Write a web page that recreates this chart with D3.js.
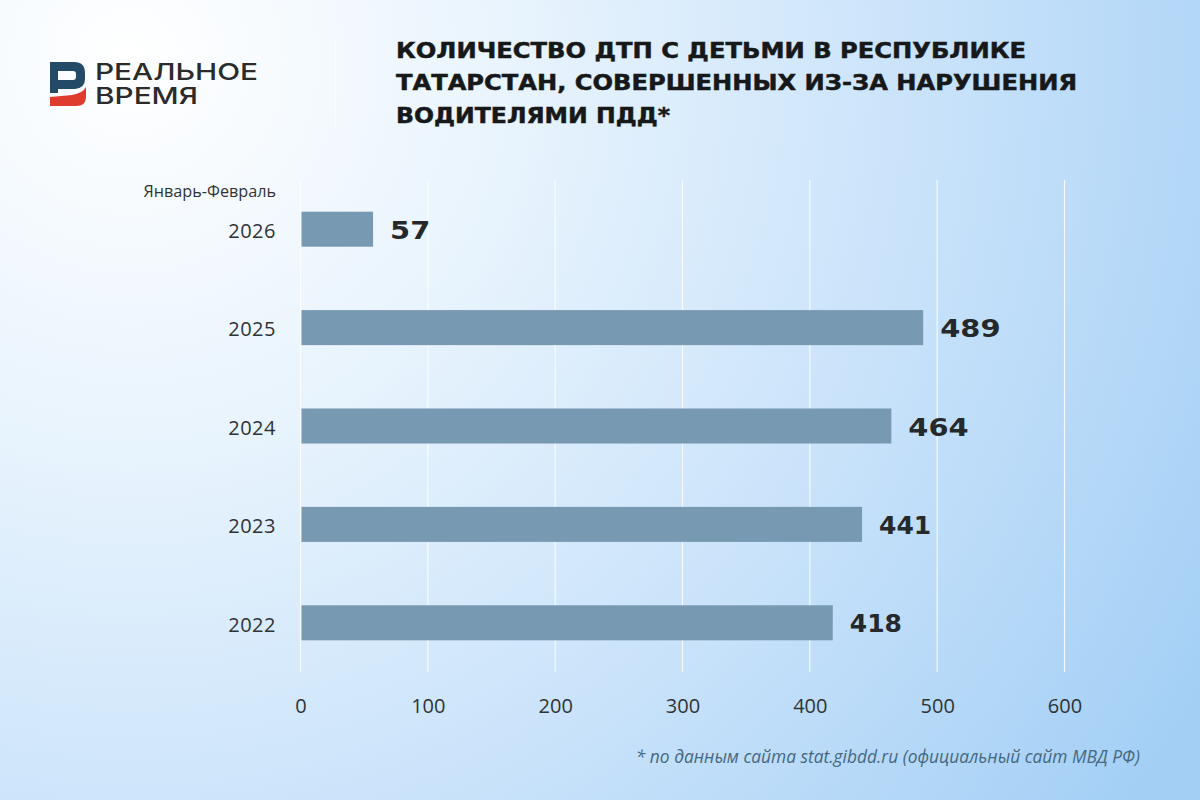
<!DOCTYPE html>
<html>
<head>
<meta charset="utf-8">
<script src="https://cdn.jsdelivr.net/npm/d3@7"></script>
<style>
    html, body { margin: 0; padding: 0; }
    svg { display: block; }
</style>
</head>
<body>
<div id="chart"></div>
<script>
// data
var years = ['2026', '2025', '2024', '2023', '2022'];
var values = [57, 489, 464, 441, 418];
var xTicks = [0, 100, 200, 300, 400, 500, 600];
var titleLines = [
    'КОЛИЧЕСТВО ДТП С ДЕТЬМИ В РЕСПУБЛИКЕ',
    'ТАТАРСТАН, СОВЕРШЕННЫХ ИЗ-ЗА НАРУШЕНИЯ',
    'ВОДИТЕЛЯМИ ПДД*'
];
var titleWidths = [630, 681, 274];
var titleBaselines = [58, 90, 123];

var width = 1200;
var height = 800;
var margin = { top: 180, right: 135.5, bottom: 128, left: 300.5 };
var plotW = width - margin.left - margin.right;
var plotH = height - margin.top - margin.bottom;

var svg = d3.select('#chart').append('svg')
    .attr('width', width)
    .attr('height', height)
    .attr('viewBox', '0 0 ' + width + ' ' + height);

// background
var defs = svg.append('defs');
var bg = defs.append('radialGradient')
    .attr('id', 'bg')
    .attr('gradientUnits', 'userSpaceOnUse')
    .attr('cx', 130).attr('cy', 60).attr('r', 1250);
bg.append('stop').attr('offset', '0').attr('stop-color', '#ffffff');
bg.append('stop').attr('offset', '0.3').attr('stop-color', '#e9f4fd');
bg.append('stop').attr('offset', '0.65').attr('stop-color', '#c8e2fa');
bg.append('stop').attr('offset', '1').attr('stop-color', '#a3cff5');
svg.append('rect').attr('width', width).attr('height', height).attr('fill', 'url(#bg)');

// logo
var logo = svg.append('g').attr('transform', 'translate(50,62)');
logo.append('path')
    .attr('d', 'M0,0 H24 Q35,0 35,11 V17 Q35,26 25,27 L8,27 V31 H0 Z M8,9 V18 H23 Q26,18 26,15 V12 Q26,9 23,9 Z')
    .attr('fill', '#234a66').attr('fill-rule', 'evenodd');
logo.append('path')
    .attr('d', 'M0,35 L22,33 Q33,31 36,25 V35 Q36,44 26,44 H0 Z')
    .attr('fill', '#e03c2e');
logo.append('text').attr('x', 45).attr('y', 18)
    .text('РЕАЛЬНОЕ')
    .attr('font-family', 'Inter').attr('font-size', 23.5).attr('font-weight', 500)
    .attr('fill', '#2b2b2b').attr('textLength', 163).attr('lengthAdjust', 'spacingAndGlyphs');
logo.append('text').attr('x', 45).attr('y', 42)
    .text('ВРЕМЯ')
    .attr('font-family', 'Inter').attr('font-size', 23.5).attr('font-weight', 500)
    .attr('fill', '#2b2b2b').attr('textLength', 103).attr('lengthAdjust', 'spacingAndGlyphs');

svg.append('line')
    .attr('x1', 335.5).attr('x2', 335.5).attr('y1', 40).attr('y2', 128)
    .attr('stroke', '#ffffff').attr('stroke-width', 1.5).attr('opacity', 0.7);

// title
svg.append('g').selectAll('text')
    .data(titleLines)
    .enter()
    .append('text')
    .attr('x', 396)
    .attr('y', function (d, i) { return titleBaselines[i]; })
    .attr('font-family', 'DejaVu Sans')
    .attr('font-weight', 700)
    .attr('font-size', 22)
    .attr('fill', '#16181a')
    .attr('stroke', '#16181a')
    .attr('stroke-width', 0.5)
    .attr('textLength', function (d, i) { return titleWidths[i]; })
    .attr('lengthAdjust', 'spacingAndGlyphs')
    .text(function (d) { return d; });

var g = svg.append('g')
    .attr('transform', 'translate(' + margin.left + ',' + margin.top + ')');

var x = d3.scaleLinear().domain([0, 600]).range([0, plotW]);
var y = d3.scaleBand().domain(years).range([0, plotH]).paddingInner(0.644).paddingOuter(0.322);

// gridlines
g.selectAll('.grid')
    .data(xTicks)
    .enter()
    .append('line')
    .attr('class', 'grid')
    .attr('x1', function (d) { return x(d); })
    .attr('x2', function (d) { return x(d); })
    .attr('y1', 0)
    .attr('y2', plotH)
    .attr('stroke', '#ffffff')
    .attr('stroke-width', 1.2)
    .attr('opacity', 0.85);

// x axis
var xAxis = g.append('g')
    .attr('transform', 'translate(0,' + plotH + ')')
    .call(d3.axisBottom(x).tickValues(xTicks).tickSize(0).tickPadding(27));
xAxis.select('.domain').remove();
xAxis.selectAll('text')
    .attr('font-family', 'Open Sans')
    .attr('font-size', 20)
    .attr('fill', '#2f3336');

// y axis
var yAxis = g.append('g')
    .call(d3.axisLeft(y).tickSize(0).tickPadding(24.5));
yAxis.select('.domain').remove();
yAxis.selectAll('text')
    .attr('font-family', 'Open Sans')
    .attr('font-size', 20)
    .attr('letter-spacing', 0.5)
    .attr('dy', '0.44em')
    .attr('fill', '#2f3336');

svg.append('text')
    .attr('x', 276).attr('y', 197)
    .attr('text-anchor', 'end')
    .attr('font-family', 'Open Sans')
    .attr('font-size', 16.2)
    .attr('fill', '#2f3336')
    .text('Январь-Февраль');

// bars
g.selectAll('.bar')
    .data(values)
    .enter()
    .append('rect')
    .attr('class', 'bar')
    .attr('x', x(0) + 1)
    .attr('y', function (d, i) { return y(years[i]); })
    .attr('width', function (d) { return x(d) - 1; })
    .attr('height', y.bandwidth())
    .attr('fill', '#7899b2');

// value labels, stretched since the original face is wider (its "1" is narrow though)
g.selectAll('.val')
    .data(values)
    .enter()
    .append('text')
    .attr('class', 'val')
    .attr('x', function (d) { return x(d) + 17; })
    .attr('y', function (d, i) { return y(years[i]) + y.bandwidth() / 2 + 9.5; })
    .attr('font-family', 'DejaVu Sans')
    .attr('font-weight', 700)
    .attr('font-size', 24.5)
    .attr('fill', '#26292b')
    .text(function (d) { return d; })
    .each(function (d) {
        var stretch = String(d).indexOf('1') >= 0 ? 1.02 : 1.18;
        d3.select(this)
            .attr('textLength', this.getComputedTextLength() * stretch)
            .attr('lengthAdjust', 'spacingAndGlyphs');
    });

// footnote
svg.append('text')
    .attr('x', 1140).attr('y', 763)
    .attr('text-anchor', 'end')
    .attr('font-family', 'Open Sans')
    .attr('font-style', 'italic')
    .attr('font-size', 17.35)
    .attr('fill', '#46687f')
    .text('* по данным сайта stat.gibdd.ru (официальный сайт МВД РФ)');
</script>
</body>
</html>
